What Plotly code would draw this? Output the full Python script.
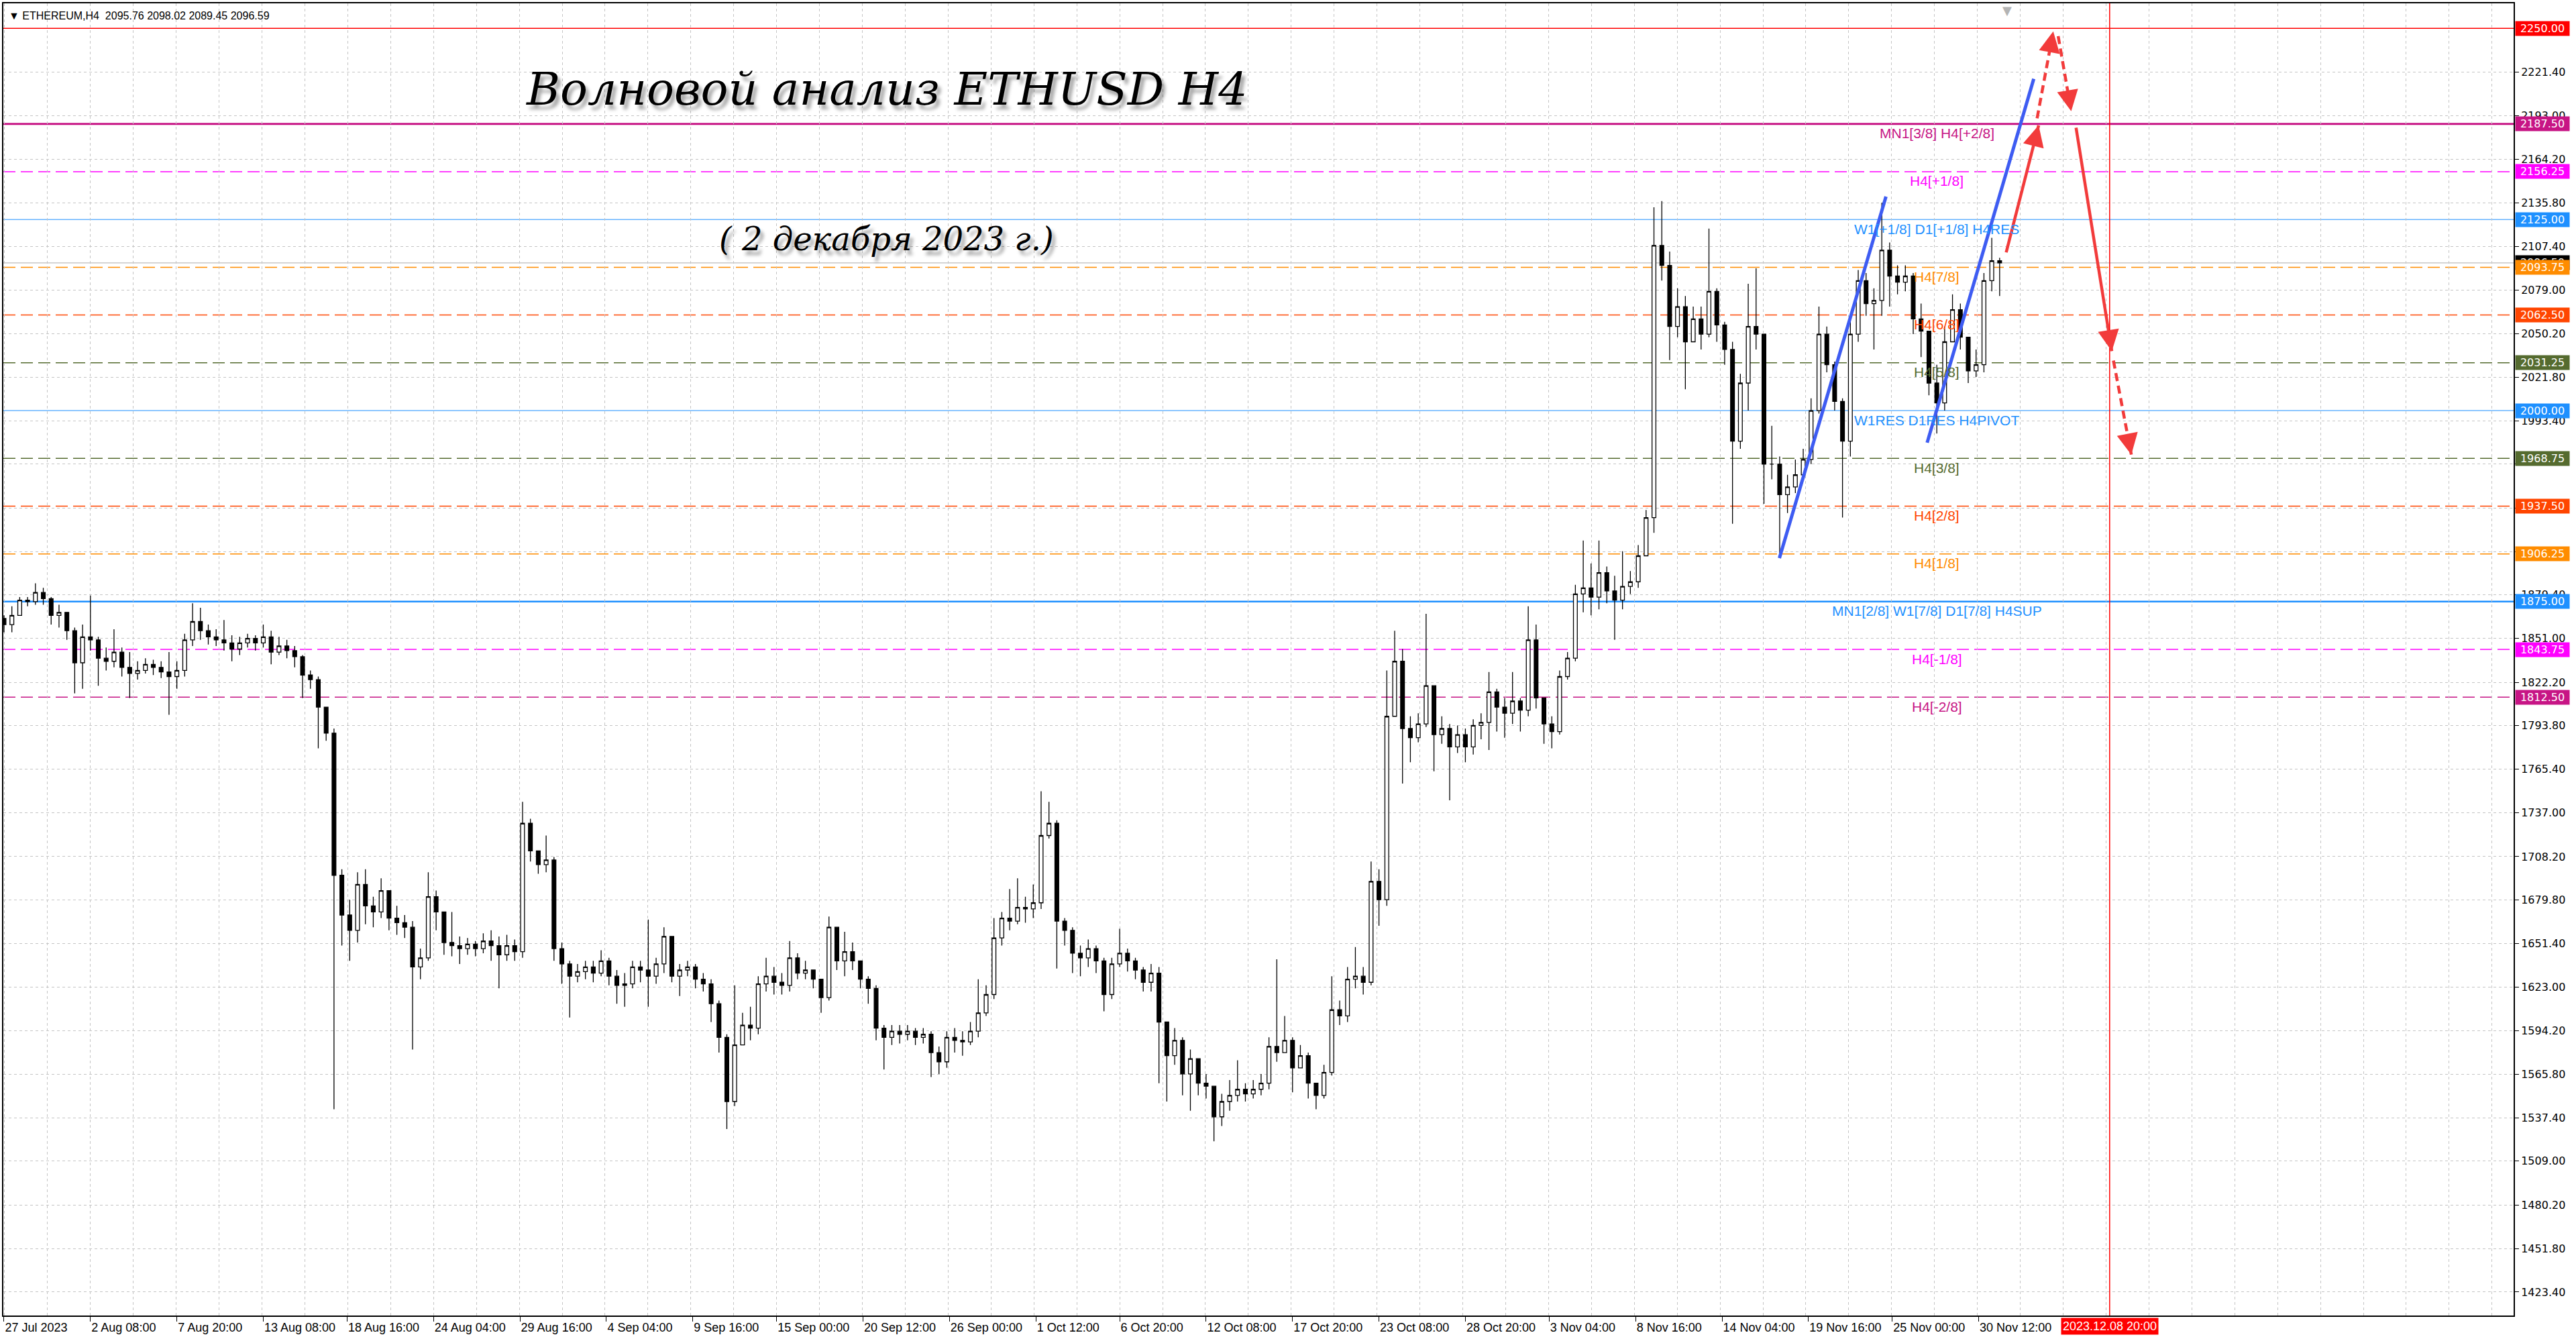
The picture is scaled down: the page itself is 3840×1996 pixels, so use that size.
import math
import plotly.graph_objects as go
import pandas as pd

# ETHUSD, read off the H4 chart and grouped into 12-hour candles
# (first candle 27 Jul 2023 20:00, last one 1 Dec 2023 20:00)
start_time = "2023-07-27 20:00"
first_open = 1864

closes = [
    1860, 1866, 1876, 1875, 1881, 1877, 1866, 1868, 1856, 1835,
    1852, 1850, 1838, 1836, 1842, 1832, 1828, 1830, 1834, 1832,
    1829, 1826, 1830, 1850, 1862, 1856, 1852, 1850, 1848, 1844,
    1848, 1851, 1848, 1852, 1842, 1846, 1843, 1839, 1827, 1824,
    1806, 1789, 1696, 1670, 1660, 1690, 1676, 1672, 1686, 1668,
    1665, 1662, 1636, 1642, 1682, 1672, 1652, 1650, 1648, 1651,
    1648, 1653, 1650, 1644, 1650, 1646, 1730, 1712, 1703, 1706,
    1648, 1638, 1630, 1633, 1636, 1632, 1640, 1630, 1624, 1625,
    1636, 1634, 1630, 1638, 1656, 1630, 1634, 1636, 1628, 1625,
    1612, 1590, 1548, 1585, 1598, 1596, 1625, 1630, 1626, 1624,
    1642, 1632, 1634, 1628, 1616, 1662, 1640, 1646, 1640, 1628,
    1622, 1596, 1590, 1594, 1592, 1594, 1590, 1592, 1580, 1574,
    1590, 1588, 1587, 1594, 1606, 1618, 1655, 1668, 1666, 1675,
    1674, 1678, 1722, 1730, 1666, 1660, 1645, 1642, 1648, 1640,
    1618, 1638, 1645, 1640, 1634, 1626, 1632, 1600, 1578, 1588,
    1566, 1576, 1560, 1558, 1538, 1548, 1552, 1556, 1553, 1556,
    1560, 1584, 1580, 1588, 1570, 1578, 1560, 1552, 1567, 1608,
    1604, 1628, 1630, 1626, 1692, 1680, 1800, 1836, 1792, 1786,
    1795, 1820, 1788, 1792, 1780, 1788, 1780, 1794, 1796, 1816,
    1806, 1802, 1810, 1804, 1850, 1812, 1795, 1790, 1826, 1838,
    1880, 1884, 1878, 1894, 1882, 1876, 1885, 1888, 1905, 1930,
    2108, 2095, 2055, 2068, 2045, 2060, 2050, 2078, 2056, 2040,
    1980, 2018, 2055, 2050, 1965, 1965, 1945, 1950, 1958, 1968,
    2000, 2050, 2030, 2006, 1980, 2050, 2085, 2070, 2072, 2105,
    2088, 2084, 2088, 2060, 2052, 2018, 2005, 2045, 2066, 2048,
    2026, 2030, 2085, 2098, 2096.59,
]
highs = [
    1866, 1872, 1878, 1878, 1887, 1884, 1878, 1873, 1868, 1858,
    1860, 1879, 1852, 1845, 1857, 1845, 1842, 1836, 1838, 1837,
    1836, 1842, 1836, 1854, 1874, 1871, 1860, 1857, 1863, 1853,
    1852, 1854, 1853, 1860, 1856, 1852, 1850, 1846, 1840, 1830,
    1826, 1803, 1792, 1700, 1680, 1698, 1700, 1682, 1694, 1686,
    1676, 1670, 1666, 1648, 1698, 1686, 1672, 1672, 1656, 1655,
    1653, 1658, 1660, 1656, 1657, 1654, 1744, 1733, 1712, 1722,
    1708, 1652, 1640, 1638, 1640, 1640, 1647, 1642, 1634, 1632,
    1640, 1640, 1667, 1642, 1662, 1653, 1638, 1640, 1638, 1632,
    1628, 1614, 1592, 1624, 1606, 1610, 1630, 1642, 1636, 1632,
    1653, 1645, 1640, 1634, 1627, 1669, 1662, 1659, 1652, 1640,
    1630, 1624, 1598, 1598, 1598, 1598, 1596, 1596, 1594, 1584,
    1594, 1596, 1594, 1600, 1628, 1624, 1668, 1672, 1687, 1694,
    1682, 1690, 1751, 1744, 1732, 1668, 1662, 1650, 1654, 1650,
    1642, 1642, 1661, 1648, 1642, 1636, 1638, 1636, 1600, 1596,
    1590, 1582, 1572, 1566, 1558, 1553, 1562, 1575, 1560, 1562,
    1566, 1590, 1641, 1604, 1590, 1585, 1580, 1558, 1572, 1630,
    1614, 1636, 1649, 1636, 1705, 1700, 1830, 1856, 1844, 1800,
    1802, 1867, 1815, 1800, 1795, 1794, 1792, 1798, 1802, 1829,
    1818, 1812, 1829, 1812, 1872, 1860, 1812, 1800, 1830, 1842,
    1886, 1915, 1900, 1915, 1898, 1892, 1908, 1895, 1912, 1935,
    2133, 2137, 2104, 2080, 2075, 2068, 2068, 2119, 2080, 2058,
    2045, 2024, 2083, 2093, 2045, 1990, 1970, 1958, 1968, 1975,
    2008, 2068, 2055, 2032, 2008, 2060, 2092, 2090, 2080, 2136,
    2110, 2095, 2095, 2090, 2070, 2050, 2030, 2055, 2076, 2070,
    2040, 2040, 2090, 2113, 2100,
]
lows = [
    1855, 1855, 1866, 1872, 1873, 1873, 1860, 1858, 1850, 1815,
    1818, 1843, 1820, 1830, 1832, 1826, 1812, 1824, 1828, 1827,
    1825, 1801, 1818, 1826, 1846, 1850, 1847, 1846, 1843, 1836,
    1840, 1845, 1843, 1845, 1834, 1840, 1838, 1832, 1812, 1818,
    1779, 1784, 1543, 1650, 1640, 1652, 1664, 1662, 1668, 1660,
    1657, 1655, 1582, 1628, 1640, 1660, 1644, 1643, 1638, 1644,
    1643, 1645, 1640, 1622, 1640, 1640, 1642, 1705, 1697, 1698,
    1640, 1625, 1603, 1626, 1628, 1626, 1630, 1624, 1612, 1610,
    1622, 1626, 1610, 1625, 1632, 1626, 1617, 1630, 1622, 1620,
    1600, 1580, 1530, 1545, 1585, 1588, 1592, 1620, 1618, 1618,
    1620, 1628, 1628, 1622, 1606, 1614, 1634, 1630, 1634, 1622,
    1612, 1588, 1569, 1585, 1586, 1588, 1585, 1586, 1564, 1566,
    1570, 1580, 1578, 1585, 1590, 1604, 1615, 1650, 1660, 1664,
    1665, 1668, 1674, 1720, 1635, 1650, 1632, 1630, 1636, 1632,
    1607, 1615, 1636, 1633, 1628, 1620, 1620, 1560, 1548, 1572,
    1552, 1542, 1552, 1550, 1522, 1532, 1542, 1548, 1548, 1550,
    1552, 1556, 1574, 1580, 1554, 1570, 1550, 1543, 1550, 1565,
    1598, 1600, 1622, 1618, 1624, 1663, 1676, 1815, 1756, 1770,
    1783, 1793, 1764, 1782, 1745, 1776, 1770, 1775, 1785, 1778,
    1790, 1786, 1795, 1790, 1800, 1805, 1782, 1779, 1788, 1824,
    1836, 1868, 1866, 1870, 1874, 1850, 1870, 1880, 1884, 1915,
    1920, 2085, 2033, 2048, 2014, 2045, 2040, 2048, 2045, 2030,
    1926, 1975, 2000, 2040, 1939, 1955, 1905, 1933, 1946, 1955,
    1965, 1998, 2025, 2000, 1930, 1970, 2045, 2062, 2040, 2062,
    2068, 2076, 2078, 2050, 2035, 2010, 1985, 2000, 2048, 2040,
    2018, 2022, 2025, 2078, 2075,
]

# horizontal levels drawn on the chart
level_prices = [2250.00, 2187.50, 2156.25, 2125.00, 2093.75, 2062.50, 2031.25,
                2000.00, 1968.75, 1937.50, 1906.25, 1875.00, 1843.75, 1812.50]
level_names = ["", "MN1[3/8] H4[+2/8]", "H4[+1/8]", "W1[+1/8] D1[+1/8] H4RES",
               "H4[7/8]", "H4[6/8]", "H4[5/8]", "W1RES D1RES H4PIVOT", "H4[3/8]",
               "H4[2/8]", "H4[1/8]", "MN1[2/8] W1[7/8] D1[7/8] H4SUP",
               "H4[-1/8]", "H4[-2/8]"]
last_price = 2096.59
header_text = "▼ ETHEREUM,H4  2095.76 2098.02 2089.45 2096.59"
title_text = "Волновой анализ ETHUSD H4"
date_text = "( 2 декабря 2023 г.)"

# time axis labels
tick_times = ["2023-07-27 20:00", "2023-08-02 08:00", "2023-08-07 20:00", "2023-08-13 08:00",
              "2023-08-18 16:00", "2023-08-24 04:00", "2023-08-29 16:00", "2023-09-04 04:00",
              "2023-09-09 16:00", "2023-09-15 00:00", "2023-09-20 12:00", "2023-09-26 00:00",
              "2023-10-01 12:00", "2023-10-06 20:00", "2023-10-12 08:00", "2023-10-17 20:00",
              "2023-10-23 08:00", "2023-10-28 20:00", "2023-11-03 04:00", "2023-11-08 16:00",
              "2023-11-14 04:00", "2023-11-19 16:00", "2023-11-25 00:00", "2023-11-30 12:00"]
tick_labels = ["27 Jul 2023", "2 Aug 08:00", "7 Aug 20:00", "13 Aug 08:00", "18 Aug 16:00",
               "24 Aug 04:00", "29 Aug 16:00", "4 Sep 04:00", "9 Sep 16:00", "15 Sep 00:00",
               "20 Sep 12:00", "26 Sep 00:00", "1 Oct 12:00", "6 Oct 20:00", "12 Oct 08:00",
               "17 Oct 20:00", "23 Oct 08:00", "28 Oct 20:00", "3 Nov 04:00", "8 Nov 16:00",
               "14 Nov 04:00", "19 Nov 16:00", "25 Nov 00:00", "30 Nov 12:00"]
price_ticks = [2221.4, 2193.0, 2164.2, 2135.8, 2107.4, 2079.0, 2050.2, 2021.8, 1993.4,
               1965.0, 1936.2, 1907.8, 1879.4, 1851.0, 1822.2, 1793.8, 1765.4, 1737.0,
               1708.2, 1679.8, 1651.4, 1623.0, 1594.2, 1565.8, 1537.4, 1509.0, 1480.2,
               1451.8, 1423.4]
# these two sit fully under the level price boxes, only their grid lines show
covered_price_ticks = [1965.0, 1936.2]

# hand drawn markup: wave lines and forecast arrows, (time, price) pairs
wave_lines = [
    (("2023-11-17 19:36", 1903.5), ("2023-11-24 14:24", 2140.0)),
    (("2023-11-27 05:18", 1979.0), ("2023-12-04 00:06", 2217.0)),
]
forecast_arrows = [
    (("2023-12-02 06:00", 2103.5), ("2023-12-04 07:36", 2186.6)),
    (("2023-12-04 05:12", 2191.2), ("2023-12-05 05:54", 2248.1)),
    (("2023-12-05 13:24", 2245.0), ("2023-12-06 09:18", 2195.8)),
    (("2023-12-06 16:42", 2185.0), ("2023-12-08 23:18", 2038.9)),
    (("2023-12-09 01:48", 2032.7), ("2023-12-10 05:06", 1971.2)),
]
forecast_end_time = "2023-12-08 20:00"
forecast_end_label = "2023.12.08 20:00"

# ---- styling ----
W, H = 3840, 1996
M = dict(l=3, r=93, t=4, b=35)
x_range = [pd.Timestamp("2023-07-27 19:00"), pd.Timestamp("2024-01-03 13:00")]
y_range = [1408.0, 2266.4]

RED = "#FF0000"
VIOLET = "#C71585"
MAGENTA = "#FF00FF"
BLUE = "#1E90FF"
ORANGE = "#FF8C00"
ORANGERED = "#FF4500"
OLIVE = "#556B2F"
level_colors = [RED, VIOLET, MAGENTA, BLUE, ORANGE, ORANGERED, OLIVE,
                BLUE, OLIVE, ORANGERED, ORANGE, BLUE, MAGENTA, VIOLET]
level_dash = ["solid", "solid", "18px,8px", "solid", "18px,8px", "18px,8px", "18px,8px",
              "solid", "18px,8px", "18px,8px", "18px,8px", "solid", "18px,8px", "18px,8px"]
level_width = [1.5, 3, 1.5, 1, 1.5, 1.5, 1.5, 1, 1.5, 1.5, 1.5, 2.5, 1.5, 1.5]
arrow_dash = ["solid", "12px,7px", "12px,7px", "solid", "12px,7px"]
ARROW_RED = "#F23B3B"
WAVE_BLUE = "#3E5CF2"
SCRIPT_SHADOW = "5px 7px 5px rgba(0,0,0,0.35)"

times = pd.date_range(start_time, periods=len(closes), freq="12h")
opens = [first_open] + closes[:-1]
hi = [max(h, o, c) for h, o, c in zip(highs, opens, closes)]
lo = [min(l, o, c) for l, o, c in zip(lows, opens, closes)]

fig = go.Figure()
fig.add_trace(go.Candlestick(
    x=times, open=opens, high=hi, low=lo, close=closes,
    increasing=dict(line=dict(color="black", width=1.3), fillcolor="white"),
    decreasing=dict(line=dict(color="black", width=1.3), fillcolor="black"),
    whiskerwidth=0, showlegend=False, hoverinfo="skip",
))

for (t0, p0), (t1, p1) in wave_lines:
    fig.add_trace(go.Scatter(x=[t0, t1], y=[p0, p1], mode="lines",
                             line=dict(color=WAVE_BLUE, width=5),
                             showlegend=False, hoverinfo="skip"))

# pixel scale, used to orient the arrow heads
plot_w = W - M["l"] - M["r"]
plot_h = H - M["t"] - M["b"]
px_per_h = plot_w / ((x_range[1] - x_range[0]).total_seconds() / 3600)
px_per_usd = plot_h / (y_range[1] - y_range[0])

for ((t0, p0), (t1, p1)), dash in zip(forecast_arrows, arrow_dash):
    fig.add_trace(go.Scatter(x=[t0, t1], y=[p0, p1], mode="lines",
                             line=dict(color=ARROW_RED, width=4.5, dash=dash),
                             showlegend=False, hoverinfo="skip"))
    dx = (pd.Timestamp(t1) - pd.Timestamp(t0)).total_seconds() / 3600 * px_per_h
    dy = (p1 - p0) * px_per_usd
    ln = math.hypot(dx, dy)
    fig.add_annotation(x=t1, y=p1, ax=-dx / ln * 22, ay=dy / ln * 22, text="",
                       showarrow=True, arrowhead=2, arrowsize=1.4, arrowwidth=4.5,
                       arrowcolor=ARROW_RED)

# level lines, their names and the price boxes
shapes = []
for price, col, dash, wd in zip(level_prices, level_colors, level_dash, level_width):
    shapes.append(dict(type="line", xref="paper", x0=0, x1=1, yref="y", y0=price, y1=price,
                       line=dict(color=col, width=wd, dash=dash), layer="below"))
shapes.append(dict(type="line", xref="paper", x0=0, x1=1, yref="y", y0=last_price,
                   y1=last_price, line=dict(color="#BDBDBD", width=1.2), layer="below"))
shapes.append(dict(type="line", xref="x", x0=forecast_end_time, x1=forecast_end_time,
                   yref="paper", y0=0, y1=1, line=dict(color=RED, width=1.5)))

for price, name, col in zip(level_prices, level_names, level_colors):
    if name:
        fig.add_annotation(xref="paper", x=0.7702, y=price, yshift=-14, text=name,
                           showarrow=False, xanchor="center", yanchor="middle",
                           font=dict(family="Liberation Sans", size=21, color=col))

box_font = dict(family="DejaVu Sans", size=16, color="white")
fig.add_annotation(xref="paper", x=1, xshift=2, y=last_price, text=f"{last_price:.2f}",
                   showarrow=False, xanchor="left", yanchor="middle", bgcolor="black",
                   width=78, borderpad=1, font=box_font)
for price, col in zip(level_prices, level_colors):
    fig.add_annotation(xref="paper", x=1, xshift=2, y=price, text=f"{price:.2f}",
                       showarrow=False, xanchor="left", yanchor="middle", bgcolor=col,
                       width=78, borderpad=1, font=box_font)

fig.add_annotation(x=forecast_end_time, xref="x", y=0, yref="paper", yanchor="top",
                   yshift=-3, text=forecast_end_label, showarrow=False, bgcolor=RED,
                   borderpad=2, font=dict(family="Liberation Sans", size=18, color="white"))

# chart header and the two hand-written titles
fig.add_annotation(xref="paper", yref="paper", x=0, y=1, xshift=6, yshift=-8,
                   xanchor="left", yanchor="top", text=header_text, showarrow=False,
                   font=dict(family="Liberation Sans", size=16, color="black"))
for txt, yy, size in [(title_text, 0.9346, 68), (date_text, 0.8206, 48)]:
    fig.add_annotation(xref="paper", yref="paper", x=0.3518, y=yy,
                       xanchor="center", yanchor="middle",
                       text=f"<i>{txt}</i>", showarrow=False,
                       font=dict(family="DejaVu Serif", size=size, color="black",
                                 shadow=SCRIPT_SHADOW))

fig.add_annotation(x="2023-12-02 07:00", xref="x", y=1, yref="paper", yanchor="top",
                   yshift=2, text="▼", showarrow=False,
                   font=dict(family="DejaVu Sans", size=18, color="#B4B4B4"))

price_tick_text = ["" if v in covered_price_ticks else f"{v:.2f}" for v in price_ticks]

fig.update_layout(
    width=W, height=H, margin=M,
    paper_bgcolor="white", plot_bgcolor="white",
    shapes=shapes, showlegend=False,
    xaxis=dict(
        type="date", range=x_range, rangeslider=dict(visible=False),
        tickmode="array", tickvals=tick_times, ticktext=tick_labels,
        ticklabelposition="outside right", ticks="outside", ticklen=7,
        tickcolor="black", tickfont=dict(family="Liberation Sans", size=18, color="black"),
        showgrid=False, showline=True, linecolor="black", linewidth=2, mirror=True,
        minor=dict(dtick=65.5 * 3600 * 1000, tick0="2023-08-02 08:00", showgrid=True,
                   gridcolor="#C4C4C4", griddash="4px,4px", gridwidth=1),
        zeroline=False,
    ),
    yaxis=dict(
        side="right", range=y_range, tickmode="array", tickvals=price_ticks,
        ticktext=price_tick_text, ticks="outside", ticklen=6, tickcolor="black",
        tickfont=dict(family="DejaVu Sans", size=16, color="black"),
        showgrid=True, gridcolor="#C4C4C4", griddash="4px,4px", gridwidth=1,
        showline=True, linecolor="black", linewidth=2, mirror=True, zeroline=False,
    ),
)

# the page has a default body margin; drop it so the figure sits in the window corner
fig.write_html("out.html", config={"displayModeBar": False},
               post_script="document.body.style.margin='0';")
